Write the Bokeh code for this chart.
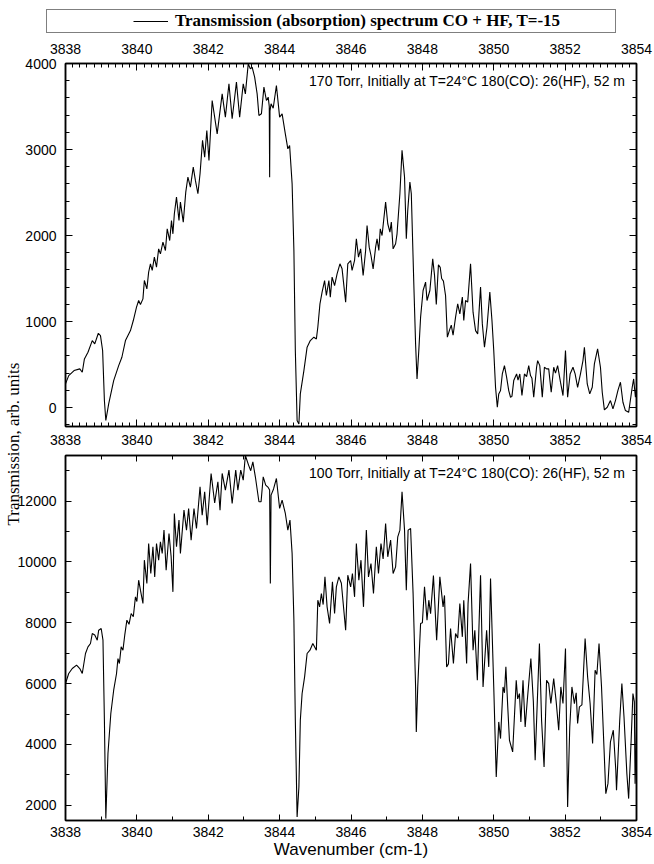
import math
from bokeh.plotting import figure
from bokeh.layouts import column, row
from bokeh.models import Range1d, LinearAxis, SingleIntervalTicker, Label, Legend, LegendItem, Title
from bokeh.embed import file_html
from bokeh.resources import INLINE

# ---------------- data ----------------
x_range_limits = [3838, 3854]

top_x = [3838.00, 3838.09, 3838.24, 3838.40, 3838.47, 3838.53, 3838.63, 3838.75, 3838.82, 3838.92,
         3838.98, 3839.04, 3839.09, 3839.13, 3839.21, 3839.35, 3839.49, 3839.58, 3839.68, 3839.82,
         3839.90, 3839.99, 3840.05, 3840.10, 3840.17, 3840.21, 3840.28, 3840.33, 3840.38, 3840.43,
         3840.49, 3840.55, 3840.61, 3840.66, 3840.73, 3840.80, 3840.85, 3840.92, 3840.97, 3841.01,
         3841.05, 3841.11, 3841.18, 3841.22, 3841.30, 3841.37, 3841.43, 3841.50, 3841.58, 3841.64,
         3841.71, 3841.77, 3841.84, 3841.90, 3841.96, 3842.02, 3842.11, 3842.25, 3842.39, 3842.48,
         3842.58, 3842.67, 3842.79, 3842.88, 3842.98, 3843.04, 3843.12, 3843.18, 3843.23, 3843.30,
         3843.37, 3843.42, 3843.49, 3843.56, 3843.63, 3843.68, 3843.71, 3843.72, 3843.73, 3843.76,
         3843.82, 3843.91, 3844.00, 3844.07, 3844.16, 3844.23, 3844.28, 3844.35, 3844.40, 3844.44,
         3844.49, 3844.54, 3844.58, 3844.68, 3844.77, 3844.86, 3844.96, 3845.03, 3845.07, 3845.13,
         3845.19, 3845.26, 3845.31, 3845.38, 3845.42, 3845.47, 3845.54, 3845.61, 3845.69, 3845.75,
         3845.85, 3845.91, 3845.99, 3846.03, 3846.10, 3846.15, 3846.21, 3846.27, 3846.34, 3846.41,
         3846.45, 3846.51, 3846.56, 3846.62, 3846.69, 3846.73, 3846.78, 3846.82, 3846.87, 3846.97,
         3847.03, 3847.09, 3847.13, 3847.18, 3847.25, 3847.29, 3847.37, 3847.43, 3847.50, 3847.55,
         3847.59, 3847.65, 3847.69, 3847.76, 3847.81, 3847.85, 3847.90, 3847.95, 3848.02, 3848.09,
         3848.13, 3848.21, 3848.29, 3848.34, 3848.39, 3848.45, 3848.50, 3848.54, 3848.59, 3848.65,
         3848.70, 3848.76, 3848.81, 3848.86, 3848.93, 3848.99, 3849.05, 3849.12, 3849.16, 3849.21,
         3849.27, 3849.35, 3849.42, 3849.49, 3849.55, 3849.63, 3849.68, 3849.74, 3849.81, 3849.89,
         3849.95, 3850.00, 3850.05, 3850.10, 3850.14, 3850.19, 3850.24, 3850.30, 3850.36, 3850.42,
         3850.47, 3850.51, 3850.56, 3850.64, 3850.68, 3850.73, 3850.79, 3850.86, 3850.92, 3850.98,
         3851.03, 3851.07, 3851.12, 3851.20, 3851.23, 3851.29, 3851.36, 3851.42, 3851.48, 3851.54,
         3851.61, 3851.68, 3851.73, 3851.79, 3851.87, 3851.94, 3852.01, 3852.07, 3852.14, 3852.22,
         3852.28, 3852.35, 3852.43, 3852.50, 3852.54, 3852.62, 3852.69, 3852.76, 3852.82, 3852.91,
         3852.99, 3853.04, 3853.10, 3853.18, 3853.27, 3853.34, 3853.41, 3853.48, 3853.55, 3853.62,
         3853.69, 3853.78, 3853.88, 3853.92, 3853.97, 3854.00]
top_y = [275, 372, 430, 450, 411, 566, 643, 779, 740, 864,
         837, 663, 82, -150, 43, 314, 488, 585, 779, 895,
         1012, 1167, 1245, 1198, 1264, 1477, 1380, 1574, 1671, 1594,
         1749, 1632, 1845, 1787, 1923, 1826, 2078, 1942, 2175, 2020,
         2253, 2446, 2175, 2389, 2156, 2505, 2680, 2563, 2796, 2641,
         2486, 2718, 3106, 2912, 3222, 2873, 3570, 3182, 3647, 3376,
         3764, 3357, 3783, 3376, 3764, 3647, 3996, 3938, 3957, 3841,
         3647, 3395, 3415, 3725, 3570, 3609, 3500, 2678, 3450, 3531,
         3480, 3744, 3376, 3415, 3182, 3008, 3047, 2601, 1826, 663,
         -150, -190, 159, 430, 702, 779, 818, 798, 934, 1206,
         1342, 1477, 1303, 1477, 1284, 1516, 1419, 1555, 1671, 1613,
         1226, 1671, 1710, 1594, 1710, 1962, 1749, 1845, 1536, 1826,
         2117, 1865, 1768, 1613, 1865, 1962, 1826, 2078, 2000, 2389,
         2137, 2040, 2156, 1845, 1904, 2020, 2486, 2990, 2680, 1962,
         2292, 2621, 2486, 1438, 740, 333, 663, 1051, 1361, 1458,
         1245, 1361, 1729, 1540, 1200, 1660, 1630, 1500, 1470, 1300,
         818, 900, 958, 841, 1051, 1206, 1090, 1284, 1012, 1245,
         1226, 1671, 1109, 895, 857, 1400, 973, 702, 934, 1342,
         1012, 663, 236, 4, 159, 198, 391, 488, 353, 198,
         120, 130, 314, 391, 320, 391, 140, 391, 360, 488,
         372, 340, 120, 469, 546, 488, 120, 469, 450, 450,
         178, 469, 400, 488, 295, 140, 663, 120, 391, 469,
         391, 236, 391, 546, 702, 275, 159, 236, 508, 682,
         469, 178, -27, 4, 81, -16, 81, 200, 295, 62,
         -35, -55, 236, 333, 120, 236]

bot_x = [3838.00, 3838.09, 3838.19, 3838.31, 3838.40, 3838.47, 3838.56, 3838.63, 3838.70, 3838.75,
         3838.82, 3838.89, 3838.93, 3839.00, 3839.05, 3839.09, 3839.13, 3839.19, 3839.27, 3839.35,
         3839.43, 3839.47, 3839.51, 3839.56, 3839.61, 3839.66, 3839.72, 3839.78, 3839.84, 3839.90,
         3839.96, 3840.00, 3840.05, 3840.10, 3840.17, 3840.21, 3840.28, 3840.33, 3840.39, 3840.45,
         3840.50, 3840.55, 3840.61, 3840.66, 3840.71, 3840.76, 3840.82, 3840.90, 3840.96, 3841.01,
         3841.05, 3841.11, 3841.18, 3841.22, 3841.32, 3841.39, 3841.45, 3841.52, 3841.60, 3841.67,
         3841.77, 3841.83, 3841.90, 3841.97, 3842.08, 3842.18, 3842.27, 3842.33, 3842.39, 3842.48,
         3842.58, 3842.67, 3842.77, 3842.83, 3842.91, 3842.98, 3843.04, 3843.13, 3843.19, 3843.25,
         3843.32, 3843.42, 3843.48, 3843.54, 3843.61, 3843.68, 3843.72, 3843.74, 3843.76, 3843.83,
         3843.91, 3844.00, 3844.07, 3844.16, 3844.23, 3844.29, 3844.35, 3844.40, 3844.44, 3844.49,
         3844.54, 3844.58, 3844.63, 3844.70, 3844.77, 3844.85, 3844.93, 3845.03, 3845.07, 3845.12,
         3845.17, 3845.22, 3845.27, 3845.33, 3845.40, 3845.48, 3845.54, 3845.59, 3845.66, 3845.73,
         3845.85, 3845.91, 3845.99, 3846.04, 3846.10, 3846.15, 3846.22, 3846.28, 3846.35, 3846.43,
         3846.49, 3846.56, 3846.63, 3846.71, 3846.77, 3846.84, 3846.90, 3846.97, 3847.03, 3847.11,
         3847.18, 3847.25, 3847.31, 3847.37, 3847.43, 3847.50, 3847.55, 3847.60, 3847.67, 3847.74,
         3847.81, 3847.83, 3847.87, 3847.95, 3848.00, 3848.06, 3848.13, 3848.18, 3848.23, 3848.31,
         3848.40, 3848.49, 3848.58, 3848.62, 3848.68, 3848.73, 3848.79, 3848.87, 3848.93, 3848.99,
         3849.05, 3849.12, 3849.16, 3849.24, 3849.28, 3849.35, 3849.42, 3849.47, 3849.54, 3849.63,
         3849.70, 3849.80, 3849.86, 3849.91, 3850.00, 3850.07, 3850.14, 3850.19, 3850.26, 3850.30,
         3850.34, 3850.39, 3850.44, 3850.53, 3850.63, 3850.67, 3850.72, 3850.76, 3850.82, 3850.88,
         3850.94, 3851.04, 3851.11, 3851.16, 3851.22, 3851.28, 3851.34, 3851.41, 3851.48, 3851.54,
         3851.60, 3851.68, 3851.75, 3851.82, 3851.88, 3851.94, 3852.01, 3852.07, 3852.13, 3852.19,
         3852.26, 3852.31, 3852.35, 3852.40, 3852.47, 3852.56, 3852.63, 3852.70, 3852.77, 3852.84,
         3852.89, 3852.95, 3853.02, 3853.09, 3853.14, 3853.20, 3853.27, 3853.35, 3853.42, 3853.44,
         3853.53, 3853.59, 3853.65, 3853.73, 3853.78, 3853.85, 3853.90, 3853.94, 3853.96, 3854.00]
bot_y = [6003, 6332, 6497, 6607, 6497, 6332, 6990, 7209, 7319, 7647,
         7600, 7429, 7757, 7812, 7429, 4797, 1562, 3700, 5016, 5784,
         6332, 6825, 6661, 7208, 7100, 7592, 8086, 7950, 8305, 8200,
         8853, 8700, 9401, 9072, 8634, 10059, 9291, 10607, 9620, 10498,
         9510, 10607, 10059, 10662, 10279, 11046, 9730, 10936, 10169, 9017,
         11594, 10498, 11375, 10279, 11704, 11046, 11759, 10717, 11759, 11101,
         12471, 11539, 12307, 11211, 12910, 11940, 12636, 11704, 12910, 12362,
         13020, 11923, 13020, 12362, 13020, 12691, 13500, 13184, 13000, 13293,
         12800, 11978, 11978, 12800, 12526, 12450, 12362, 9292, 12197, 12400,
         12745, 11759, 12033, 11594, 11046, 11375, 10279, 8086, 4796, 1616,
         2603, 4796, 5674, 6222, 6990, 7100, 7319, 7100, 8743, 8524,
         8963, 8600, 9510, 8524, 7977, 9346, 8305, 9182, 9510, 9300,
         7757, 9566, 9182, 9620, 8853, 10607, 9401, 10059, 8524, 11046,
         9510, 9949, 8963, 10498, 9620, 10607, 10100, 11265, 10169, 10717,
         9620, 9840, 10827, 11046, 12307, 11046, 9072, 11046, 11101, 8963,
         5892, 4413, 5892, 7977, 8000, 9182, 8086, 8743, 8300, 9550,
         7427, 9510, 8524, 8900, 6550, 6650, 7812, 6661, 7647, 7500,
         8634, 7538, 8743, 6661, 8634, 9949, 7100, 7757, 6113, 9566,
         5892, 7757, 6550, 9456, 5892, 2931, 4741, 4193, 5892, 5700,
         6550, 5290, 4138, 3754, 6113, 5500, 5673, 4741, 6113, 4577,
         5455, 6825, 5400, 3480, 5400, 7319, 4796, 3260, 6113, 6000,
         5345, 6168, 5400, 4468, 5892, 5345, 7155, 1945, 4577, 5892,
         5345, 5700, 4687, 5235, 5300, 7484, 6222, 5345, 4029, 6442,
         6300, 7319, 5892, 3865, 2384, 2712, 4084, 4468, 3151, 2494,
         4797, 6003, 4900, 3042, 2220, 4138, 5674, 5400, 2712, 4577]

top_y_limits = [-220, 4000]
bot_y_limits = [1500, 13500]

legend_text = "Transmission (absorption) spectrum CO + HF, T=-15"
top_note = "170 Torr, Initially at T=24\u00b0C 180(CO): 26(HF), 52 m"
bot_note = "100 Torr, Initially at T=24\u00b0C 180(CO): 26(HF), 52 m"
x_title = "Wavenumber (cm-1)"
y_title = "Transmission, arb. units"

SANS = "Liberation Sans"
SERIF = "Liberation Serif"


def style_axis(ax, labels=True, standoff=9, tin=7, tmin=4):
    ax.axis_line_color = "black"
    ax.axis_line_width = 1.5
    ax.major_tick_in = tin
    ax.major_tick_out = 0
    ax.minor_tick_in = tmin
    ax.minor_tick_out = 0
    ax.major_tick_line_color = "black"
    ax.minor_tick_line_color = "black"
    ax.major_tick_line_width = 1
    ax.minor_tick_line_width = 1
    ax.major_label_text_font = SANS
    if labels:
        ax.major_label_text_color = "black"
        ax.major_label_text_font_size = "14px"
        ax.major_label_standoff = standoff
    else:
        ax.major_label_text_color = None
        ax.major_label_text_font_size = "0px"
        ax.major_label_standoff = 0


def no_grid(p):
    p.xgrid.visible = False
    p.ygrid.visible = False


# ---------------- header (legend box) ----------------
header = figure(width=654, height=36, x_range=Range1d(0, 1), y_range=Range1d(0, 1),
                output_backend="svg", toolbar_location=None,
                x_axis_location=None, y_axis_location=None, min_border=0,
                outline_line_color=None)
no_grid(header)
# legend key: the spectrum itself, hidden; only its legend sample is drawn
key = header.line(top_x, top_y, line_color="black", line_width=1, line_dash="0 85 35 300",
                  visible=False)
legend = Legend(items=[LegendItem(label=legend_text, renderers=[key])],
                location=(46, 3), padding=1, margin=0, spacing=0,
                label_standoff=7, glyph_width=120, glyph_height=20,
                label_height=20, label_width=439,
                border_line_color="black", border_line_width=1,
                background_fill_color="white", background_fill_alpha=1,
                label_text_font=SERIF, label_text_font_style="bold",
                label_text_font_size="17px", label_text_color="black")
header.add_layout(legend)

# ---------------- top panel ----------------
EXT = 80
top = figure(width=654, height=27 + 363 + 25 + EXT,
             x_range=Range1d(x_range_limits[0], x_range_limits[1]),
             y_range=Range1d(top_y_limits[0], top_y_limits[1]),
             output_backend="svg", toolbar_location=None,
             x_axis_location=None, y_axis_location=None,
             min_border_left=65, min_border_right=18, min_border_top=27,
             min_border_bottom=25 + EXT)
no_grid(top)
top.border_fill_alpha = 0
top.outline_line_color = "black"
top.outline_line_width = 1.5
top.line(top_x, top_y, line_color="black", line_width=1.1)

ax = LinearAxis(ticker=SingleIntervalTicker(interval=2, num_minor_ticks=10))
style_axis(ax, True, standoff=10)
top.add_layout(ax, "above")
ax = LinearAxis(ticker=SingleIntervalTicker(interval=2, num_minor_ticks=10))
style_axis(ax, True, standoff=8)
top.add_layout(ax, "below")
ax = LinearAxis(ticker=SingleIntervalTicker(interval=1000, num_minor_ticks=5))
style_axis(ax, True, standoff=9)
top.add_layout(ax, "left")
ax = LinearAxis(ticker=SingleIntervalTicker(interval=1000, num_minor_ticks=5))
style_axis(ax, False)
top.add_layout(ax, "right")

top.add_layout(Title(text=y_title, align="left", offset=-99, standoff=0,
                     text_font=SERIF, text_font_size="17px", text_font_style="normal",
                     text_color="black"), "left")

top.add_layout(Label(x=560, y=346, x_units="screen", y_units="screen", text=top_note,
                     text_align="right", text_baseline="middle",
                     text_font=SANS, text_font_size="14px", text_color="black"))

# ---------------- bottom panel ----------------
bot = figure(width=654, height=413,
             x_range=Range1d(x_range_limits[0], x_range_limits[1]),
             y_range=Range1d(bot_y_limits[0], bot_y_limits[1]),
             output_backend="svg", toolbar_location=None,
             x_axis_location=None, y_axis_location=None,
             min_border_left=65, min_border_right=18, min_border_top=4, min_border_bottom=44,
             margin=(-EXT, 0, 0, 0))
no_grid(bot)
bot.border_fill_alpha = 0
bot.outline_line_color = "black"
bot.outline_line_width = 1.5
bot.line(bot_x, bot_y, line_color="black", line_width=1.1)

ax = LinearAxis(ticker=SingleIntervalTicker(interval=2, num_minor_ticks=2), axis_label=x_title)
style_axis(ax, True, standoff=6, tin=6, tmin=4)
ax.axis_label_standoff = 0
ax.axis_label_text_font = SANS
ax.axis_label_text_font_size = "17px"
ax.axis_label_text_font_style = "normal"
ax.axis_label_text_color = "black"
bot.add_layout(ax, "below")
ax = LinearAxis(ticker=SingleIntervalTicker(interval=2, num_minor_ticks=2))
style_axis(ax, False, tin=6, tmin=4)
bot.add_layout(ax, "above")
ax = LinearAxis(ticker=SingleIntervalTicker(interval=2000, num_minor_ticks=2))
style_axis(ax, True, standoff=9, tin=6, tmin=4)
bot.add_layout(ax, "left")
ax = LinearAxis(ticker=SingleIntervalTicker(interval=2000, num_minor_ticks=2))
style_axis(ax, False, tin=6, tmin=4)
bot.add_layout(ax, "right")

bot.add_layout(Label(x=560, y=348, x_units="screen", y_units="screen", text=bot_note,
                     text_align="right", text_baseline="middle",
                     text_font=SANS, text_font_size="14px", text_color="black"))

layout = column(row(header), top, bot, spacing=0)
open("out.html", "w").write(file_html(layout, INLINE))
